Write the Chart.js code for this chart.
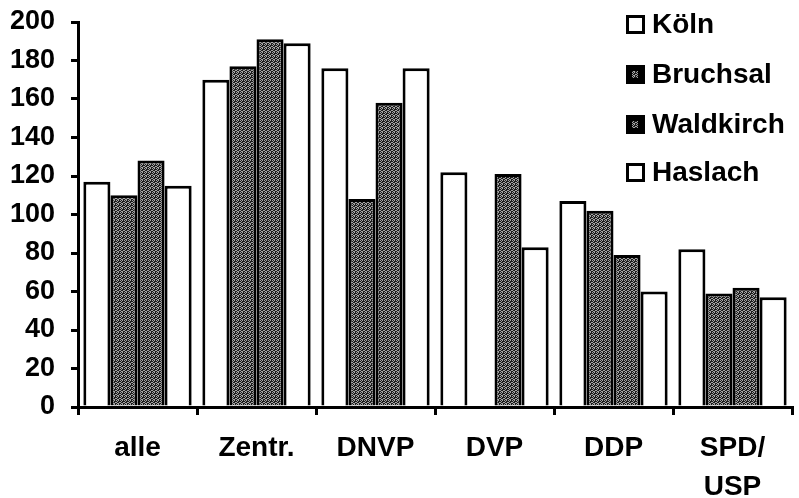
<!DOCTYPE html>
<html>
<head>
<meta charset="utf-8">
<script src="https://cdn.jsdelivr.net/npm/chart.js@4.4.1/dist/chart.umd.min.js"></script>
<style>
  html, body { margin: 0; padding: 0; background: #fff; }
  #wrap { width: 799px; height: 498px; position: relative; }
</style>
</head>
<body>
<div id="wrap"><canvas id="c"></canvas></div>
<script>
// ── data ──
const categories = ['alle', 'Zentr.', 'DNVP', 'DVP', 'DDP', ['SPD/', 'USP']];
const koeln     = [117, 170, 176, 122, 107, 82];
const bruchsal  = [110, 177, 108, 0, 102, 59];
const waldkirch = [128, 191, 158, 121, 79, 62];
const haslach   = [115, 189, 176, 83, 60, 57];
const yTicks    = { min: 0, max: 200, step: 20 };

const FONT = "'Liberation Sans', Arial, Helvetica, sans-serif";

// speckled grey fill, like the halftone of the scan
function speckle() {
  const p = document.createElement('canvas');
  p.width = 4; p.height = 4;
  const x = p.getContext('2d');
  x.fillStyle = '#1c1c1c';
  x.fillRect(0, 0, 4, 4);
  x.fillStyle = '#a4a4a4';
  [[0,0],[2,0],[1,1],[3,2],[0,2],[2,3],[1,3]].forEach(([a, b]) => x.fillRect(a, b, 1, 1));
  return x.createPattern(p, 'repeat');
}
const grey = speckle();

const ds = (label, data, fill) => ({
  label, data, backgroundColor: fill, borderColor: '#000', borderWidth: 3, borderSkipped: 'bottom',
  categoryPercentage: 0.91, barPercentage: 1.0
});

// legend drawn inside the plot, top right
const innerLegend = {
  id: 'innerLegend',
  afterDraw(chart) {
    const ctx = chart.ctx;
    const rows = [24, 74, 124, 172];
    ctx.save();
    ctx.font = `bold 28px ${FONT}`;
    ctx.textBaseline = 'middle';
    chart.data.datasets.forEach((d, i) => {
      const y = rows[i];
      const bx = 626, by = y - 9;
      if (d.backgroundColor === '#ffffff') {
        ctx.fillStyle = '#fff';
        ctx.fillRect(bx, by, 19, 19);
        ctx.strokeStyle = '#000'; ctx.lineWidth = 3;
        ctx.strokeRect(bx + 1.5, by + 1.5, 16, 16);
      } else {
        ctx.fillStyle = '#000';
        ctx.fillRect(bx, by, 19, 19);
        ctx.fillStyle = grey;
        ctx.fillRect(bx + 6, by + 6, 6, 7);
      }
      ctx.fillStyle = '#000';
      ctx.fillText(d.label, 652, y + 1);
    });
    ctx.restore();
  }
};

new Chart(document.getElementById('c'), {
  type: 'bar',
  data: {
    labels: categories,
    datasets: [
      ds('Köln', koeln, '#ffffff'),
      ds('Bruchsal', bruchsal, grey),
      ds('Waldkirch', waldkirch, grey),
      ds('Haslach', haslach, '#ffffff'),
    ]
  },
  options: {
    responsive: true, maintainAspectRatio: false, animation: false,
    layout: { padding: { top: 22, right: 7, left: 0, bottom: 0 } },
    plugins: { legend: { display: false }, tooltip: { enabled: false } },
    scales: {
      x: {
        grid: { drawOnChartArea: false, drawTicks: true, tickLength: 8, color: '#000', lineWidth: 3, offset: true },
        border: { display: true, color: '#000', width: 3 },
        ticks: { color: '#000', padding: 13, maxRotation: 0, autoSkip: false,
                 font: { family: FONT, size: 28, weight: 'bold', lineHeight: 1.42 } },
        afterFit: s => { s.height = 91; }
      },
      y: {
        min: yTicks.min, max: yTicks.max,
        grid: { drawOnChartArea: false, drawTicks: true, tickLength: 7, color: '#000', lineWidth: 3 },
        border: { display: true, color: '#000', width: 3 },
        ticks: { stepSize: yTicks.step, color: '#000', padding: 16,
                 font: { family: FONT, size: 27, weight: 'bold' } },
        afterFit: s => { s.width = 78; s.paddingTop = 0; s.paddingBottom = 0; }
      }
    }
  },
  plugins: [innerLegend]
});
</script>
</body>
</html>
